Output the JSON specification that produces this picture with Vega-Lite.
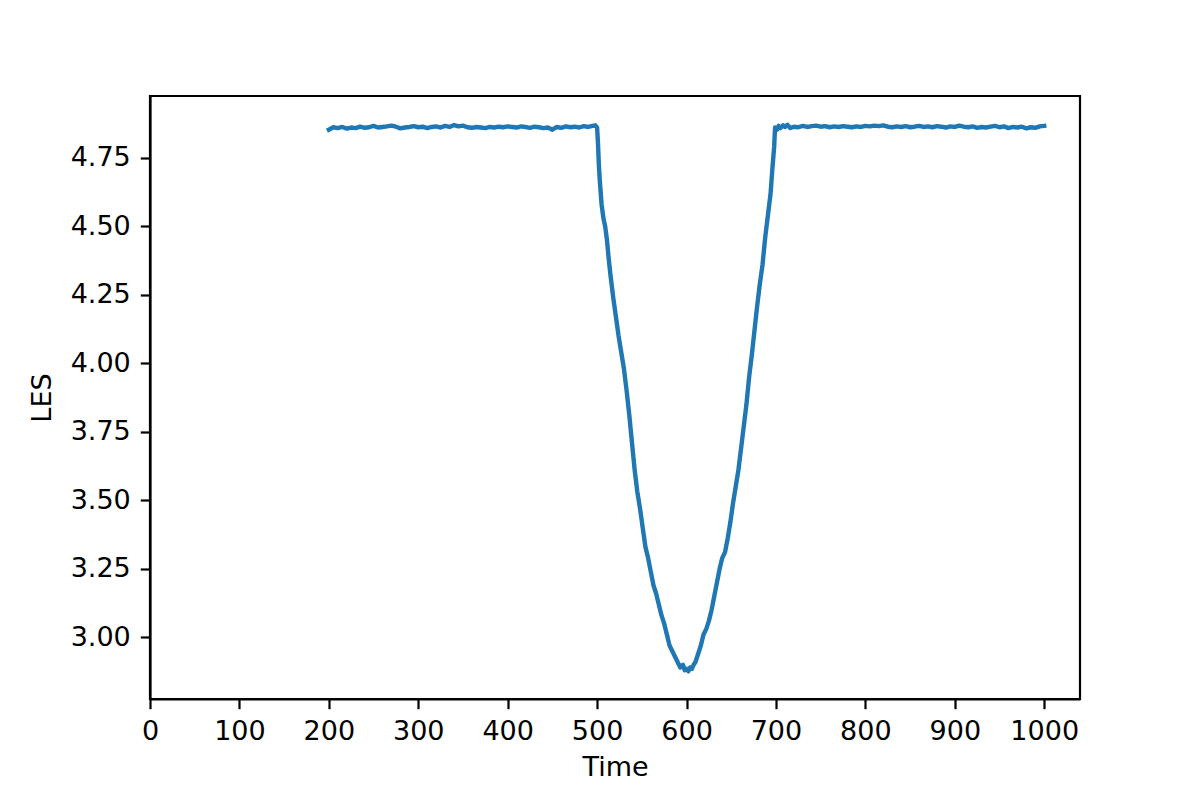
{
  "$schema": "https://vega.github.io/schema/vega-lite/v6.json",
  "autosize": {"type": "none"},
  "padding": {"left": 150, "top": 96, "right": 120, "bottom": 101},
  "width": 930,
  "height": 603,
  "background": "white",
  "config": {
    "font": "DejaVu Sans",
    "view": {"stroke": "black", "strokeWidth": 2.2},
    "axis": {
      "grid": false,
      "labelFlush": false,
      "labelOverlap": false,
      "domainColor": "black",
      "domainWidth": 2.2,
      "tickColor": "black",
      "tickWidth": 2.2,
      "tickSize": 9.7,
      "labelFont": "DejaVu Sans",
      "labelFontSize": 27,
      "labelColor": "black",
      "labelPadding": 10,
      "titleFont": "DejaVu Sans",
      "titleFontSize": 27,
      "titleFontWeight": "normal",
      "titleColor": "black"
    }
  },
  "data": {
    "values": [
      {"Time": 200, "LES": 4.852}, {"Time": 205, "LES": 4.861}, {"Time": 210, "LES": 4.858}, {"Time": 215, "LES": 4.862},
      {"Time": 220, "LES": 4.856}, {"Time": 225, "LES": 4.860}, {"Time": 230, "LES": 4.858}, {"Time": 235, "LES": 4.863},
      {"Time": 240, "LES": 4.859}, {"Time": 245, "LES": 4.861}, {"Time": 250, "LES": 4.866}, {"Time": 255, "LES": 4.860},
      {"Time": 260, "LES": 4.862}, {"Time": 265, "LES": 4.864}, {"Time": 270, "LES": 4.867}, {"Time": 275, "LES": 4.863},
      {"Time": 280, "LES": 4.857}, {"Time": 285, "LES": 4.860}, {"Time": 290, "LES": 4.862}, {"Time": 295, "LES": 4.865},
      {"Time": 300, "LES": 4.861}, {"Time": 305, "LES": 4.863}, {"Time": 310, "LES": 4.858}, {"Time": 315, "LES": 4.862},
      {"Time": 320, "LES": 4.864}, {"Time": 325, "LES": 4.860}, {"Time": 330, "LES": 4.866}, {"Time": 335, "LES": 4.862},
      {"Time": 340, "LES": 4.869}, {"Time": 345, "LES": 4.864}, {"Time": 350, "LES": 4.867}, {"Time": 355, "LES": 4.861},
      {"Time": 360, "LES": 4.859}, {"Time": 365, "LES": 4.862}, {"Time": 370, "LES": 4.860}, {"Time": 375, "LES": 4.858},
      {"Time": 380, "LES": 4.862}, {"Time": 385, "LES": 4.860}, {"Time": 390, "LES": 4.863}, {"Time": 395, "LES": 4.861},
      {"Time": 400, "LES": 4.864}, {"Time": 405, "LES": 4.862}, {"Time": 410, "LES": 4.860}, {"Time": 415, "LES": 4.864},
      {"Time": 420, "LES": 4.862}, {"Time": 425, "LES": 4.859}, {"Time": 430, "LES": 4.863}, {"Time": 435, "LES": 4.861},
      {"Time": 440, "LES": 4.858}, {"Time": 445, "LES": 4.860}, {"Time": 450, "LES": 4.852}, {"Time": 455, "LES": 4.862},
      {"Time": 460, "LES": 4.859}, {"Time": 465, "LES": 4.864}, {"Time": 470, "LES": 4.861}, {"Time": 475, "LES": 4.863},
      {"Time": 480, "LES": 4.860}, {"Time": 485, "LES": 4.865}, {"Time": 490, "LES": 4.862}, {"Time": 495, "LES": 4.866},
      {"Time": 498, "LES": 4.868}, {"Time": 500, "LES": 4.860}, {"Time": 501, "LES": 4.80}, {"Time": 502, "LES": 4.72},
      {"Time": 503, "LES": 4.666}, {"Time": 505, "LES": 4.58}, {"Time": 507, "LES": 4.53}, {"Time": 509, "LES": 4.50},
      {"Time": 511, "LES": 4.45}, {"Time": 513, "LES": 4.38}, {"Time": 515, "LES": 4.32}, {"Time": 518, "LES": 4.24},
      {"Time": 521, "LES": 4.17}, {"Time": 524, "LES": 4.10}, {"Time": 527, "LES": 4.04}, {"Time": 530, "LES": 3.98},
      {"Time": 533, "LES": 3.90}, {"Time": 536, "LES": 3.81}, {"Time": 539, "LES": 3.71}, {"Time": 542, "LES": 3.61},
      {"Time": 545, "LES": 3.53}, {"Time": 548, "LES": 3.47}, {"Time": 551, "LES": 3.40}, {"Time": 554, "LES": 3.33},
      {"Time": 557, "LES": 3.29}, {"Time": 560, "LES": 3.24}, {"Time": 563, "LES": 3.19}, {"Time": 566, "LES": 3.16},
      {"Time": 569, "LES": 3.12}, {"Time": 572, "LES": 3.08}, {"Time": 575, "LES": 3.05}, {"Time": 578, "LES": 3.01},
      {"Time": 581, "LES": 2.97}, {"Time": 584, "LES": 2.95}, {"Time": 587, "LES": 2.93}, {"Time": 590, "LES": 2.91},
      {"Time": 593, "LES": 2.89}, {"Time": 596, "LES": 2.90}, {"Time": 598, "LES": 2.88}, {"Time": 600, "LES": 2.885},
      {"Time": 602, "LES": 2.876}, {"Time": 604, "LES": 2.89}, {"Time": 606, "LES": 2.885}, {"Time": 608, "LES": 2.90},
      {"Time": 610, "LES": 2.91}, {"Time": 613, "LES": 2.94}, {"Time": 616, "LES": 2.97}, {"Time": 619, "LES": 3.01},
      {"Time": 622, "LES": 3.03}, {"Time": 625, "LES": 3.06}, {"Time": 628, "LES": 3.10}, {"Time": 631, "LES": 3.15},
      {"Time": 634, "LES": 3.20}, {"Time": 637, "LES": 3.25}, {"Time": 640, "LES": 3.29}, {"Time": 643, "LES": 3.31},
      {"Time": 646, "LES": 3.36}, {"Time": 649, "LES": 3.42}, {"Time": 652, "LES": 3.49}, {"Time": 655, "LES": 3.55},
      {"Time": 658, "LES": 3.61}, {"Time": 661, "LES": 3.69}, {"Time": 664, "LES": 3.77}, {"Time": 667, "LES": 3.85},
      {"Time": 670, "LES": 3.95}, {"Time": 673, "LES": 4.03}, {"Time": 676, "LES": 4.12}, {"Time": 679, "LES": 4.21},
      {"Time": 682, "LES": 4.29}, {"Time": 685, "LES": 4.36}, {"Time": 688, "LES": 4.46}, {"Time": 691, "LES": 4.54},
      {"Time": 694, "LES": 4.62}, {"Time": 696, "LES": 4.71}, {"Time": 698, "LES": 4.79}, {"Time": 699, "LES": 4.86},
      {"Time": 701, "LES": 4.852}, {"Time": 703, "LES": 4.866}, {"Time": 705, "LES": 4.858}, {"Time": 708, "LES": 4.868},
      {"Time": 710, "LES": 4.862}, {"Time": 713, "LES": 4.870}, {"Time": 716, "LES": 4.858}, {"Time": 720, "LES": 4.863},
      {"Time": 725, "LES": 4.861}, {"Time": 730, "LES": 4.866}, {"Time": 735, "LES": 4.862}, {"Time": 740, "LES": 4.865},
      {"Time": 745, "LES": 4.867}, {"Time": 750, "LES": 4.863}, {"Time": 755, "LES": 4.865}, {"Time": 760, "LES": 4.861},
      {"Time": 765, "LES": 4.864}, {"Time": 770, "LES": 4.862}, {"Time": 775, "LES": 4.865}, {"Time": 780, "LES": 4.863},
      {"Time": 785, "LES": 4.861}, {"Time": 790, "LES": 4.864}, {"Time": 795, "LES": 4.862}, {"Time": 800, "LES": 4.866},
      {"Time": 805, "LES": 4.864}, {"Time": 810, "LES": 4.867}, {"Time": 815, "LES": 4.865}, {"Time": 820, "LES": 4.868},
      {"Time": 825, "LES": 4.863}, {"Time": 830, "LES": 4.861}, {"Time": 835, "LES": 4.864}, {"Time": 840, "LES": 4.862},
      {"Time": 845, "LES": 4.865}, {"Time": 850, "LES": 4.861}, {"Time": 855, "LES": 4.863}, {"Time": 860, "LES": 4.866},
      {"Time": 865, "LES": 4.862}, {"Time": 870, "LES": 4.864}, {"Time": 875, "LES": 4.861}, {"Time": 880, "LES": 4.865},
      {"Time": 885, "LES": 4.863}, {"Time": 890, "LES": 4.860}, {"Time": 895, "LES": 4.864}, {"Time": 900, "LES": 4.862},
      {"Time": 905, "LES": 4.867}, {"Time": 910, "LES": 4.863}, {"Time": 915, "LES": 4.861}, {"Time": 920, "LES": 4.864},
      {"Time": 925, "LES": 4.859}, {"Time": 930, "LES": 4.862}, {"Time": 935, "LES": 4.860}, {"Time": 940, "LES": 4.863},
      {"Time": 945, "LES": 4.866}, {"Time": 950, "LES": 4.861}, {"Time": 955, "LES": 4.864}, {"Time": 960, "LES": 4.858},
      {"Time": 965, "LES": 4.862}, {"Time": 970, "LES": 4.860}, {"Time": 975, "LES": 4.863}, {"Time": 980, "LES": 4.857},
      {"Time": 985, "LES": 4.861}, {"Time": 990, "LES": 4.859}, {"Time": 995, "LES": 4.864}, {"Time": 1000, "LES": 4.866}
    ]
  },
  "mark": {"type": "line", "color": "#1f77b4", "strokeWidth": 4.4, "strokeJoin": "round", "strokeCap": "square"},
  "encoding": {
    "x": {
      "field": "Time", "type": "quantitative",
      "scale": {"domain": [0, 1040], "nice": false, "zero": false},
      "axis": {"title": "Time", "values": [0, 100, 200, 300, 400, 500, 600, 700, 800, 900, 1000], "format": "d", "titlePadding": 10}
    },
    "y": {
      "field": "LES", "type": "quantitative",
      "scale": {"domain": [2.775, 4.975], "nice": false, "zero": false},
      "axis": {"title": "LES", "values": [3.0, 3.25, 3.5, 3.75, 4.0, 4.25, 4.5, 4.75], "format": ".2f", "titlePadding": 14}
    }
  }
}
